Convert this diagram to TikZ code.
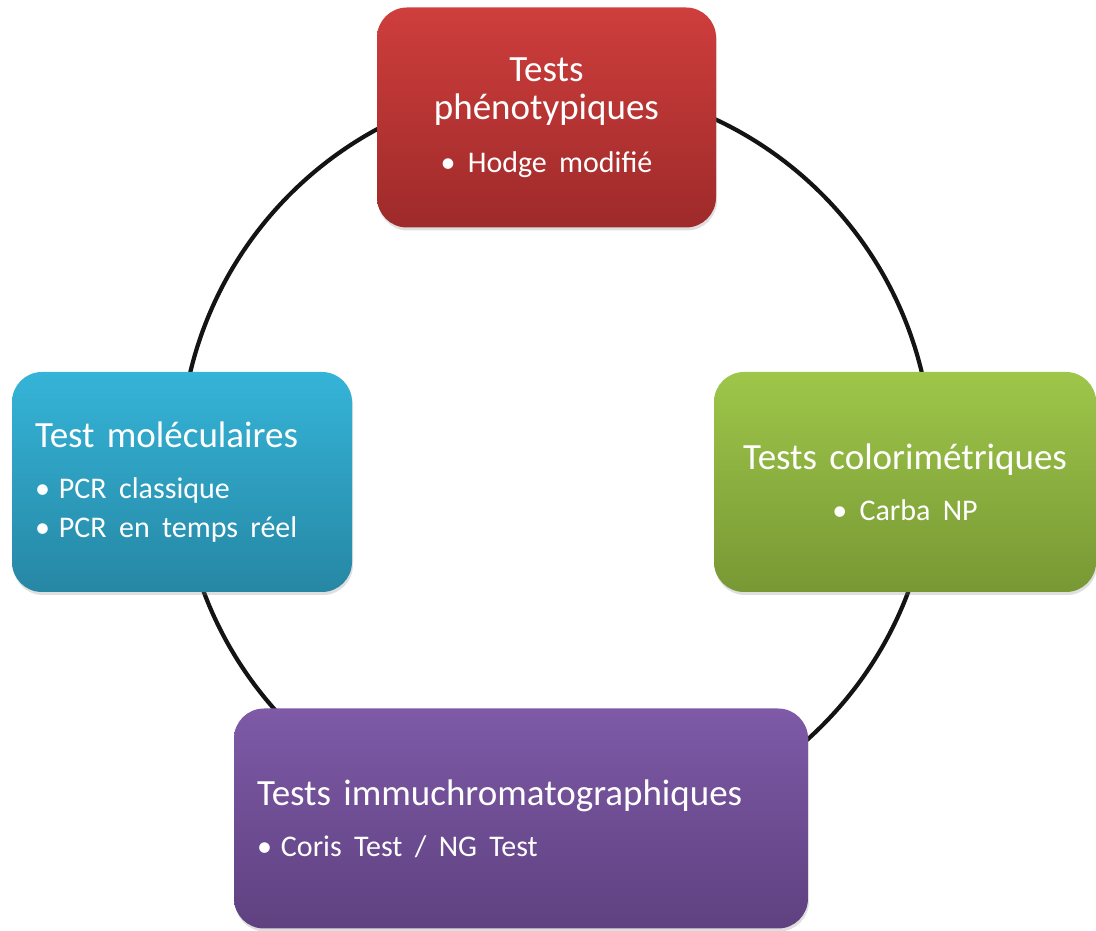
\documentclass[tikz,border=0pt]{standalone}
\usepackage{fontspec}
\setmainfont{Carlito}
\usetikzlibrary{shadows}
\definecolor{redtop}{RGB}{206,62,60}
\definecolor{redbot}{RGB}{158,42,42}
\definecolor{grntop}{RGB}{158,198,74}
\definecolor{grnbot}{RGB}{120,152,52}
\definecolor{blutop}{RGB}{53,180,216}
\definecolor{blubot}{RGB}{38,135,164}
\definecolor{purtop}{RGB}{126,90,167}
\definecolor{purbot}{RGB}{95,65,128}
\newcommand{\ttl}{\fontsize{37}{38}\selectfont}
\newcommand{\itm}{\fontsize{30}{38}\selectfont}
\newcommand{\blt}{\makebox[24pt][l]{\textbullet}}

\begin{document}
\begin{tikzpicture}[x=1pt,y=1pt,
  box/.style={rounded corners=30pt,text=white,inner ysep=0pt,minimum height=220pt,font=\ttl,
    drop shadow={opacity=.25,shadow xshift=1pt,shadow yshift=-3pt}},
  ctr/.style={box,align=center,inner xsep=8pt},
  lft/.style={box,align=left,inner xsep=23pt}]
\useasboundingbox (0,0) rectangle (1096,931);
% ring behind the boxes
\draw[line width=4.2pt,black!92] (556,471) circle [radius=376];
% the four groups of tests
\node[ctr,top color=redtop,bottom color=redbot,text width=323pt] (phe) at (546.5,813.5)
  {Tests\\phénotypiques\\[15pt]{\itm\textbullet\ Hodge modifié}};
\node[ctr,top color=grntop,bottom color=grnbot,text width=366pt] (col) at (905,449)
  {Tests colorimétriques\\[13pt]{\itm\textbullet\ Carba NP}};
\node[lft,top color=blutop,bottom color=blubot,text width=294pt] (mol) at (182,449)
  {Test moléculaires\\[13pt]{\itm\blt PCR classique}\\[1pt]{\itm\blt PCR en temps réel}};
\node[lft,top color=purtop,bottom color=purbot,text width=528pt] (imm) at (521,112.5)
  {Tests immuchromatographiques\\[13pt]{\itm\blt Coris Test / NG Test}};
\end{tikzpicture}
\end{document}
